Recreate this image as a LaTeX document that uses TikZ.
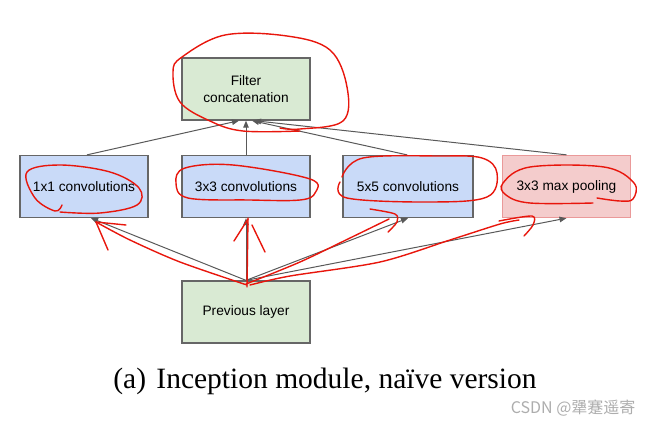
\documentclass[tikz,border=0pt]{standalone}
\usepackage{fontspec}
\setmainfont{Liberation Serif}
\newfontfamily\boxfont{Liberation Sans}
\newfontfamily\cjkfont{Noto Sans CJK SC}
\usetikzlibrary{arrows.meta}
\definecolor{gfill}{HTML}{D9EAD3}
\definecolor{bfill}{HTML}{C9DAF8}
\definecolor{rfill}{HTML}{F4CCCC}
\definecolor{rdraw}{HTML}{EA9999}
\definecolor{edge}{HTML}{666666}
\definecolor{conn}{HTML}{595959}
\definecolor{pen}{HTML}{E8160C}
\tikzset{
  layer/.style={draw=edge, line width=1.3pt, minimum width=128pt, minimum height=62pt,
    inner sep=0pt, align=center, font=\boxfont\fontsize{13.7}{17}\selectfont},
  green/.style={layer, fill=gfill},
  blue/.style={layer, fill=bfill},
  pink/.style={layer, fill=rfill, draw=rdraw},
  link/.style={draw=conn, line width=1pt, -{Triangle[length=7pt,width=5.5pt]}},
  scribble/.style={draw=pen, line width=1.4pt, line cap=round, line join=round},
}
\begin{document}
\begin{tikzpicture}[x=1pt,y=-1pt]
\useasboundingbox (0,0) rectangle (656,424);
% boxes
\node[green] (fc) at (246,89) {Filter\\concatenation};
\node[blue] (c1) at (84,186.5) {1x1 convolutions};
\node[blue] (c3) at (246,186.5) {3x3 convolutions};
\node[blue, minimum width=130pt] (c5) at (408,186.5) {5x5 convolutions};
\node[pink] (mp) at (566.5,186.5) {3x3 max pooling};
\node[green] (prev) at (246,312) {Previous layer};
% connectors to concatenation
\draw[link] ([xshift=3pt]c1.north) -- ([xshift=-7pt]fc.south);
\draw[link] (c3.north) -- (fc.south);
\draw[link] ([xshift=-1pt]c5.north) -- ([xshift=6pt]fc.south);
\draw[link] (mp.north) -- ([xshift=8pt]fc.south);
% connectors from previous layer
\draw[link] (prev.north) -- ([xshift=7pt]c1.south);
\draw[link] (prev.north) -- (c3.south);
\draw[link] (prev.north) -- (c5.south);
\draw[link] (prev.north) -- (mp.south);
% caption and watermark
\node[anchor=base, font=\fontsize{29.5}{34}\selectfont] (cap) at (325,388)
  {(a)\hspace{0.35em}Inception module, na\"ive version};
\node[anchor=base east, text=black!32, font=\cjkfont\fontsize{16}{19}\selectfont] (wm) at (639,413)
  {CSDN @犟蹇遥寄};
% red pen annotations
\draw[scribble] plot[smooth, tension=0.6] coordinates {(280,128) (300,129) (343,121) (347,87) (330,50) (287,36) (225,35) (182,57) (173,72) (180,102) (210,121) (243,131) (300,131)};
\draw[scribble] plot[smooth, tension=0.6] coordinates {(62,205) (55,211) (35,198) (27,172) (60,165) (110,172) (139,188) (137,205) (100,213) (60,212)};
\draw[scribble] plot[smooth cycle, tension=0.6] coordinates {(176,183) (185,168) (233,165) (310,179) (315,193) (300,200) (250,200) (188,198)};
\draw[scribble] plot[smooth, tension=0.6] coordinates {(342,177) (363,158) (440,156) (482,158) (497,173) (487,197) (430,202) (347,198) (340,182)};
\draw[scribble] plot[smooth, tension=0.6] coordinates {(597,198) (620,201) (633,199) (634,183) (604,167) (530,167) (503,183) (506,195) (530,203) (593,203)};
% red strokes along connectors
\draw[scribble] plot[smooth, tension=0.5] coordinates {(247,285) (180,262) (130,240) (96,222)};
\draw[scribble] (96,222) -- (108,250) (96,222) -- (126,225);
\draw[scribble] (247,287) -- (248,218);
\draw[scribble] (248,219) -- (234,241) (252,225) -- (265,252);
\draw[scribble] plot[smooth, tension=0.5] coordinates {(246,284) (300,262) (350,238) (389,219)};
\draw[scribble] plot[smooth, tension=0.5] coordinates {(370,209) (395,214) (397,222) (388,232)};
\draw[scribble] plot[smooth, tension=0.5] coordinates {(250,285) (290,276) (380,262) (450,240) (500,224) (519,220)};
\draw[scribble] plot[smooth, tension=0.5] coordinates {(499,221) (532,216) (533,225) (524,236)};
\end{tikzpicture}
\end{document}
